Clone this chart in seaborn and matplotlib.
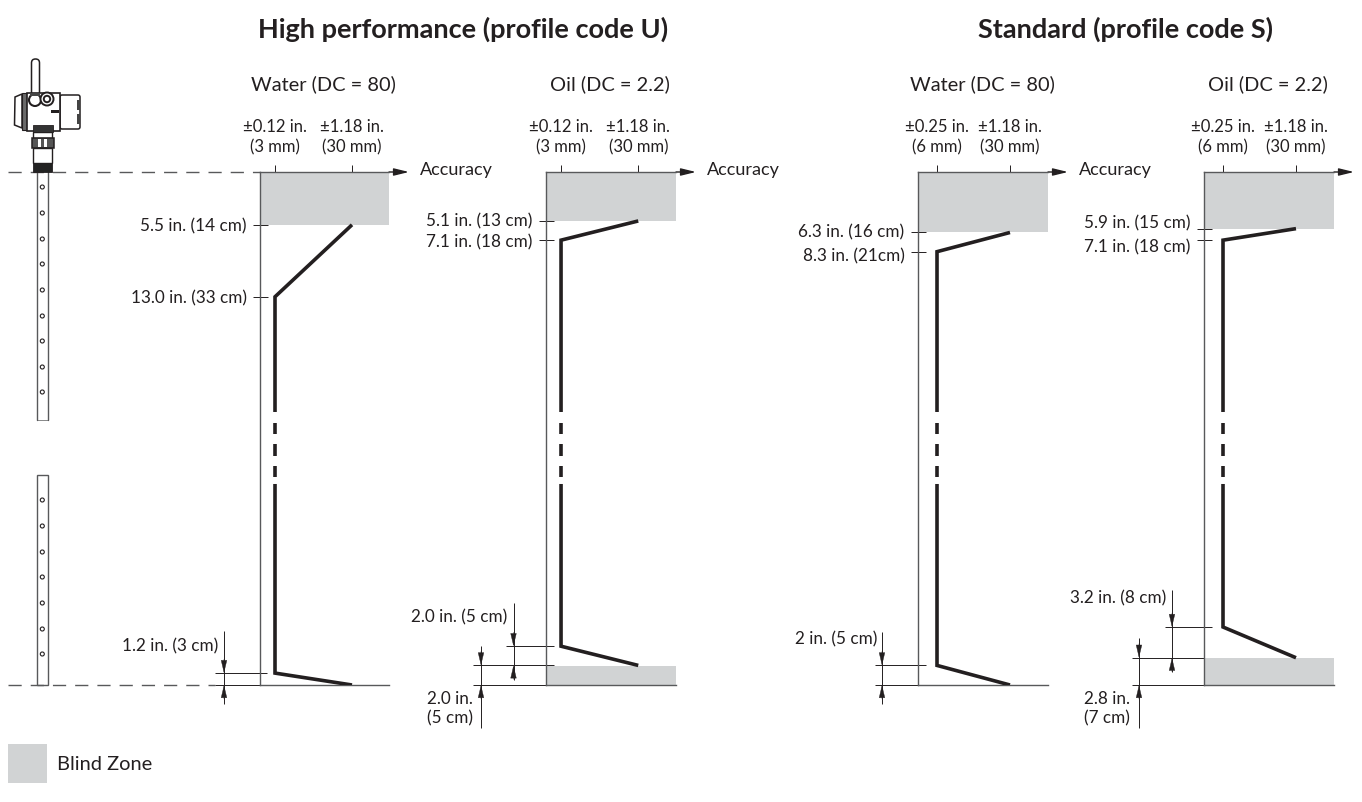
import numpy as np
import pandas as pd
import matplotlib
matplotlib.use("Agg")
import matplotlib.pyplot as plt
from matplotlib.patches import Rectangle, FancyBboxPatch, Circle, Polygon
from matplotlib.transforms import ScaledTranslation
import seaborn as sns

# ---------- data (accuracy in mm, distance from reference point in inches) ----------
PANEL_NAMES = ["Water U", "Oil U", "Water S", "Oil S"]
MEDIA = ["Water (DC = 80)", "Oil (DC = 2.2)", "Water (DC = 80)", "Oil (DC = 2.2)"]
PROFILES = ["High performance (profile code U)", "Standard (profile code S)"]
HEIGHT_IN = 53.44

ACC_WATER_U = [30, 3, 3, 30]
DIST_WATER_U = [5.5, 13.0, 52.2, 53.44]
ACC_OIL_U = [30, 3, 3, 30]
DIST_OIL_U = [5.1, 7.1, 49.4, 51.4]
ACC_WATER_S = [30, 6, 6, 30]
DIST_WATER_S = [6.3, 8.3, 51.4, 53.44]
ACC_OIL_S = [30, 6, 6, 30]
DIST_OIL_S = [5.9, 7.1, 47.4, 50.6]

BREAK_DASHES = [(26.1, 27.3), (28.3, 29.6), (30.6, 31.8)]
BREAK_START = 25.0
BREAK_END = 32.5

BLIND_TOP = [5.5, 5.1, 6.3, 5.9]
BLIND_BOTTOM = [0.0, 2.0, 0.0, 2.8]

XTICKS = [[3, 30], [3, 30], [6, 30], [6, 30]]
XTICK_LABELS = [
    ["±0.12 in.\n(3 mm)", "±1.18 in.\n(30 mm)"],
    ["±0.12 in.\n(3 mm)", "±1.18 in.\n(30 mm)"],
    ["±0.25 in.\n(6 mm)", "±1.18 in.\n(30 mm)"],
    ["±0.25 in.\n(6 mm)", "±1.18 in.\n(30 mm)"],
]
YTICKS = [[5.5, 13.0], [5.1, 7.1], [6.3, 8.3], [5.9, 7.1]]
YTICK_LABELS = [
    ["5.5 in. (14 cm)", "13.0 in. (33 cm)"],
    ["5.1 in. (13 cm)", "7.1 in. (18 cm)"],
    ["6.3 in. (16 cm)", "8.3 in. (21cm)"],
    ["5.9 in. (15 cm)", "7.1 in. (18 cm)"],
]
HOLES_UPPER = [187, 213, 239, 264, 290, 316, 341, 367, 392]
HOLES_LOWER = [500, 526, 552, 577, 603, 629, 654]

# ---------- style / layout ----------
sns.set_theme(style="white")
plt.rcParams["font.family"] = ["Lato", "Noto Sans", "DejaVu Sans"]
INK = "#231f20"
LINE = "#58595b"
BLIND = "#d1d3d4"
FS = 12.3
W, H = 1362, 802

fig = plt.figure(figsize=(W / 100, H / 100), dpi=100, facecolor="white")
overlay = fig.add_axes([0, 0, 1, 1], zorder=0)
overlay.set_xlim(0, W)
overlay.set_ylim(H, 0)
overlay.axis("off")

LEFTS = [260, 546, 918, 1204]
WIDTHS = [129, 130, 130, 130]
TOP, BOTTOM = 172, 685
XLIMS = [(-2.26, 42.97), (-2.26, 43.2), (-0.25, 42.5), (-0.25, 42.5)]
TICK_NUDGE = [[0, 0], [1, -1], [2, -3], [7, -6]]

curves = [(ACC_WATER_U, DIST_WATER_U), (ACC_OIL_U, DIST_OIL_U),
          (ACC_WATER_S, DIST_WATER_S), (ACC_OIL_S, DIST_OIL_S)]

axes = []
for i, name in enumerate(PANEL_NAMES):
    ax = fig.add_axes([LEFTS[i] / W, 1 - BOTTOM / H, WIDTHS[i] / W, (BOTTOM - TOP) / H],
                      zorder=2, facecolor="none")
    acc, dist = curves[i]
    base = acc[1]
    rows = [(acc[0], dist[0], 0), (acc[1], dist[1], 0), (base, BREAK_START, 0)]
    for k, (a, b) in enumerate(BREAK_DASHES):
        rows += [(base, a, k + 1), (base, b, k + 1)]
    rows += [(base, BREAK_END, 9), (acc[2], dist[2], 9), (acc[3], dist[3], 9)]
    df = pd.DataFrame(rows, columns=["accuracy_mm", "distance_in", "segment"])

    ax.fill_between(XLIMS[i], 0, BLIND_TOP[i], color=BLIND, lw=0, zorder=1)
    if BLIND_BOTTOM[i] > 0:
        ax.fill_between(XLIMS[i], HEIGHT_IN - BLIND_BOTTOM[i], HEIGHT_IN, color=BLIND, lw=0, zorder=1)

    sns.lineplot(data=df, x="accuracy_mm", y="distance_in", units="segment", estimator=None,
                 sort=False, color=INK, lw=2.6, ax=ax, zorder=5, legend=False,
                 solid_capstyle="butt", solid_joinstyle="miter")

    ax.set_xlim(*XLIMS[i])
    ax.set_ylim(HEIGHT_IN, 0)
    ax.set_xlabel("")
    ax.set_ylabel("")
    ax.spines["right"].set_visible(False)
    for s in ["left", "top", "bottom"]:
        ax.spines[s].set_color(LINE)
        ax.spines[s].set_linewidth(1.0)
    ax.xaxis.tick_top()
    ax.set_xticks(XTICKS[i])
    ax.set_xticklabels(XTICK_LABELS[i], fontsize=12, color=INK, linespacing=1.36)
    ax.set_yticks(YTICKS[i])
    ax.set_yticklabels(YTICK_LABELS[i], fontsize=FS, color=INK)
    ax.tick_params(axis="both", which="major", direction="inout", length=10.8, width=0.7,
                   color=INK, bottom=False, left=True, top=True)
    ax.tick_params(axis="y", pad=4.3)
    ax.tick_params(axis="x", pad=6.5)
    for lab, dy in zip(ax.get_yticklabels(), TICK_NUDGE[i]):
        lab.set_transform(lab.get_transform() +
                          ScaledTranslation(0, dy / 100, fig.dpi_scale_trans))
    axes.append(ax)

# Accuracy arrows
ARROW_END = [409, 696, 1068, 1354]
for i, x1 in enumerate(ARROW_END):
    overlay.annotate("", xy=(x1, TOP), xytext=(LEFTS[i] + WIDTHS[i], TOP), zorder=3,
                     arrowprops=dict(arrowstyle="-|>,head_length=0.9,head_width=0.22", color=INK,
                                     lw=1.0, shrinkA=0, shrinkB=0, mutation_scale=10))
    if i < 3:
        overlay.text(x1 + 11, 170, "Accuracy", fontsize=13, color=INK, va="center", ha="left")

# Titles
overlay.text(463, 29, PROFILES[0], fontsize=19.5, fontweight="bold", color=INK, ha="center", va="center")
overlay.text(1125, 29, PROFILES[1], fontsize=19.5, fontweight="bold", color=INK, ha="center", va="center")
for xc, txt in zip([323, 610, 982, 1268], MEDIA):
    overlay.text(xc, 84, txt, fontsize=14.4, color=INK, ha="center", va="center")


def y_px(y_in):
    return TOP + y_in / HEIGHT_IN * (BOTTOM - TOP)


def dim_line(x0, x1, y_in):
    overlay.plot([x0, x1], [y_px(y_in)] * 2, color=INK, lw=0.7, zorder=3, solid_capstyle="butt")


def dim_arrow(x, y0, y1, head_down_in, head_up_in):
    overlay.plot([x, x], [y0, y1], color=INK, lw=0.7, zorder=3, solid_capstyle="butt")
    for tip, tail in [(y_px(head_down_in), y_px(head_down_in) - 14),
                      (y_px(head_up_in), y_px(head_up_in) + 14)]:
        overlay.annotate("", xy=(x, tip), xytext=(x, tail), zorder=4,
                         arrowprops=dict(arrowstyle="-|>,head_length=0.85,head_width=0.2", color=INK,
                                         lw=0.3, shrinkA=0, shrinkB=0, mutation_scale=10))


# Panel 1 dimensions
dim_line(215, 267, 52.2)
dim_line(215, 260, 53.44)
dim_arrow(224, 631, 704, 52.2, 53.44)
overlay.text(218, 646, "1.2 in. (3 cm)", fontsize=FS, color=INK, ha="right", va="center")

# Panel 2 dimensions
dim_line(506, 554, 49.4)
dim_line(473, 554, 51.4)
dim_line(473, 546, 53.44)
dim_arrow(513.5, 603, 680, 49.4, 51.4)
dim_arrow(481, 646, 728, 51.4, 53.44)
overlay.text(507, 617, "2.0 in. (5 cm)", fontsize=FS, color=INK, ha="right", va="center")
overlay.text(473, 709, "2.0 in.\n(5 cm)", fontsize=FS, color=INK, ha="right", va="center", linespacing=1.25)

# Panel 3 dimensions
dim_line(875, 926, 51.4)
dim_line(875, 918, 53.44)
dim_arrow(882, 632, 704, 51.4, 53.44)
overlay.text(877, 639, "2 in. (5 cm)", fontsize=FS, color=INK, ha="right", va="center")

# Panel 4 dimensions
dim_line(1165, 1212, 47.4)
dim_line(1132, 1212, 50.6)
dim_line(1132, 1204, 53.44)
dim_arrow(1172, 590, 672, 47.4, 50.6)
dim_arrow(1139, 638, 728, 50.6, 53.44)
overlay.text(1166, 598, "3.2 in. (8 cm)", fontsize=FS, color=INK, ha="right", va="center")
overlay.text(1130, 709, "2.8 in.\n(7 cm)", fontsize=FS, color=INK, ha="right", va="center", linespacing=1.25)

# Reference dashed lines
dash = (0, (9.5, 6.5))
overlay.plot([8, 260], [TOP, TOP], color=LINE, lw=1.0, linestyle=dash, zorder=1)
overlay.plot([8, 215], [BOTTOM, BOTTOM], color=LINE, lw=1.0, linestyle=dash, zorder=1)

# Probe illustration
lw = 1.0
overlay.plot([37, 37], [172, 420], color=LINE, lw=lw)
overlay.plot([47.5, 47.5], [172, 420], color=LINE, lw=lw)
overlay.plot([37, 47.5], [420, 420], color=LINE, lw=0.5)
overlay.add_patch(Rectangle((37, 475), 10.5, 210, fill=False, ec=LINE, lw=lw))
for y in HOLES_UPPER + HOLES_LOWER:
    overlay.add_patch(Circle((42.3, y), 2.0, fill=False, ec=INK, lw=0.8))

# Transmitter head
overlay.add_patch(FancyBboxPatch((31.5, 59), 8, 44, boxstyle="round,pad=0,rounding_size=3.9",
                                 fc="white", ec=INK, lw=1.1, zorder=3))
overlay.add_patch(Polygon([(22, 94), (15, 97), (14.5, 125), (22, 128)], fc="white", ec=INK, lw=1.1, zorder=3))
overlay.add_patch(Rectangle((22, 93), 6, 37, fc="#6a6a6a", ec=INK, lw=0.8, zorder=3))
overlay.add_patch(FancyBboxPatch((60, 95), 20, 34, boxstyle="round,pad=0,rounding_size=2",
                                 fc="white", ec=INK, lw=1.1, zorder=3))
overlay.add_patch(Rectangle((27, 93), 33, 38, fc="white", ec=INK, lw=1.2, zorder=4))
overlay.add_patch(Rectangle((77, 100), 3, 10, fc="#444444", ec="none", zorder=5))
overlay.add_patch(Rectangle((77, 114), 3, 10, fc="#444444", ec="none", zorder=5))
overlay.add_patch(Circle((35, 100), 6, fc="white", ec=INK, lw=1.5, zorder=5))
overlay.add_patch(Rectangle((30, 93), 10, 3, fc="#444444", ec="none", zorder=6))
overlay.add_patch(Circle((47, 99), 6.5, fc="white", ec=INK, lw=1.4, zorder=5))
overlay.add_patch(Circle((47, 99), 3.2, fc="white", ec=INK, lw=1.4, zorder=6))
overlay.add_patch(Rectangle((50.5, 109.5), 8, 3.5, fc=INK, ec="none", zorder=5))
overlay.add_patch(Rectangle((33, 125), 20, 7, fc="#333333", ec=INK, lw=0.6, zorder=5))
overlay.add_patch(Rectangle((33, 132), 19, 6, fc="white", ec=INK, lw=1.0, zorder=3))
overlay.add_patch(Rectangle((31.5, 138), 22, 10, fc="#555555", ec=INK, lw=1.1, zorder=3))
overlay.add_patch(Rectangle((38, 139), 3, 8, fc="white", ec="none", zorder=4))
overlay.add_patch(Rectangle((44, 139), 3, 8, fc="white", ec="none", zorder=4))
overlay.add_patch(Rectangle((33, 148), 19, 15, fc="white", ec=INK, lw=1.0, zorder=3))
overlay.add_patch(Rectangle((33, 163), 19, 9, fc="#222222", ec=INK, lw=0.6, zorder=3))

# Legend swatch
overlay.add_patch(Rectangle((8, 744), 39, 39, fc=BLIND, ec="none"))
overlay.text(57, 765, "Blind Zone", fontsize=14.4, color=INK, ha="left", va="center")

fig.savefig("out.png", dpi=100, facecolor="white")
